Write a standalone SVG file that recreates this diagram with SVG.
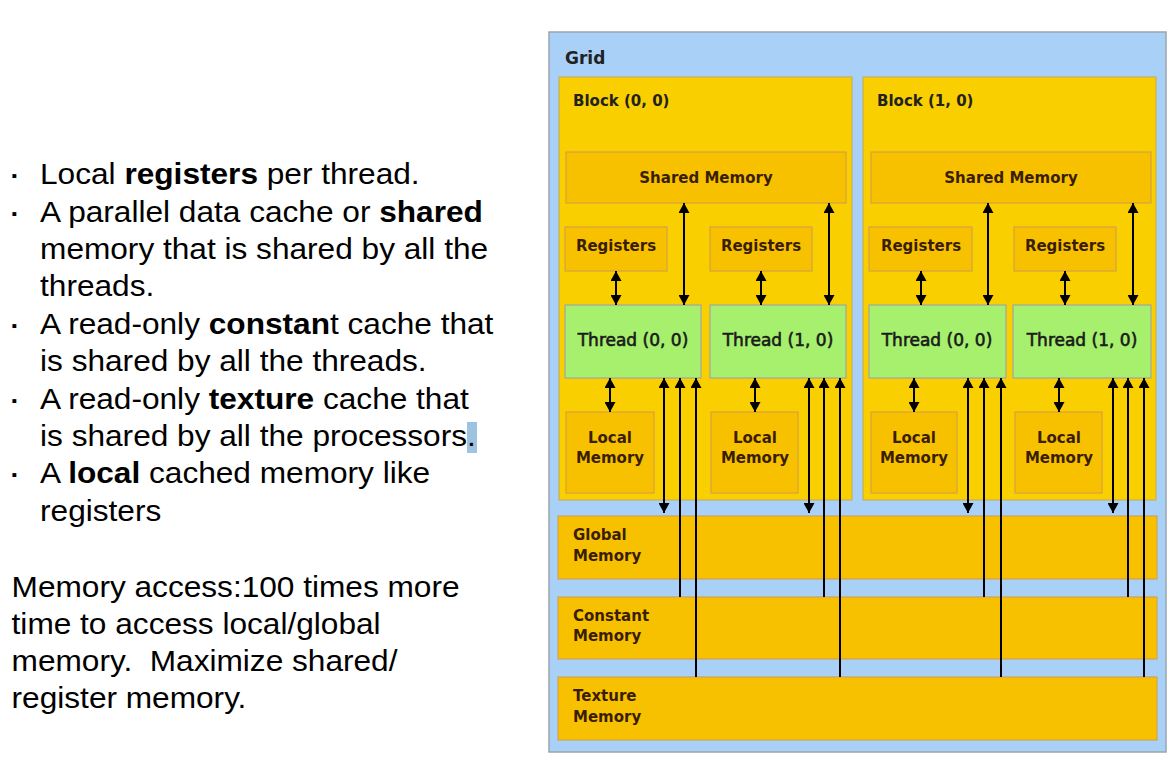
<svg xmlns="http://www.w3.org/2000/svg" width="1175" height="765" viewBox="0 0 1175 765">
<style>
.t{font-family:"Liberation Sans",Arial,sans-serif;font-size:30px;fill:#000}
.b{font-weight:bold}
.bu{font-family:"Liberation Sans",Arial,sans-serif;font-size:26px;font-weight:bold;fill:#000}
.lbl{font-family:"DejaVu Sans",Verdana,sans-serif;font-weight:bold;font-size:15px;fill:#3a1e00}
.hd{font-family:"DejaVu Sans",Verdana,sans-serif;font-weight:bold;font-size:15px;fill:#222}
.th{font-family:"DejaVu Sans",Verdana,sans-serif;font-size:17px;fill:#1a1a1a;stroke:#1a1a1a;stroke-width:0.6}
.grid{fill:#a9d1f7;stroke:#9aa4ad;stroke-width:1.5}
.blk{fill:#f9cf00;stroke:#c2a860;stroke-width:1}
.mem{fill:#f8c100;stroke:#d09a50;stroke-width:1}
.thr{fill:#a6f06e;stroke:#a4a4a4;stroke-width:1.2}
.c line{stroke:#000;stroke-width:2}
</style>
<defs>
<marker id="ah" viewBox="0 0 10 11" refX="10" refY="5.5" markerWidth="11" markerHeight="11" markerUnits="userSpaceOnUse" orient="auto-start-reverse">
<path d="M0,0 L10,5.5 L0,11 z" fill="#000"/>
</marker>
</defs>
<rect width="1175" height="765" fill="#fff"/>

<g id="text">
<rect x="467" y="422" width="10" height="31" fill="#9dc3e0"/>
<g transform="scale(1.054,1)">
<text class="bu" x="10" y="185">·</text><text class="t" x="38" y="184">Local <tspan class="b">registers</tspan> per thread.</text>
<text class="bu" x="10" y="223">·</text><text class="t" x="38" y="222">A parallel data cache or <tspan class="b">shared</tspan></text>
<text class="t" x="38" y="259">memory that is shared by all the</text>
<text class="t" x="38" y="296">threads.</text>
<text class="bu" x="10" y="335">·</text><text class="t" x="38" y="334">A read-only <tspan class="b">constan</tspan>t cache that</text>
<text class="t" x="38" y="371">is shared by all the threads.</text>
<text class="bu" x="10" y="410">·</text><text class="t" x="38" y="409">A read-only <tspan class="b">texture</tspan> cache that</text>
<text class="t" x="38" y="446">is shared by all the processors.</text>
<text class="bu" x="10" y="484">·</text><text class="t" x="38" y="483">A <tspan class="b">local</tspan> cached memory like</text>
<text class="t" x="38" y="521">registers</text>
<text class="t" x="11" y="597">Memory access:100 times more</text>
<text class="t" x="11" y="634">time to access local/global</text>
<text class="t" x="11" y="671">memory.&#160; Maximize shared/</text>
<text class="t" x="11" y="708">register memory.</text>
</g>
</g>

<g id="grid">
<rect class="grid" x="549" y="32" width="617" height="720"/>
<text class="hd" x="565" y="64" style="font-size:17px">Grid</text>
</g>

<g id="block0">
<rect class="blk" x="559" y="77" width="293" height="423"/>
<text class="hd" x="573" y="106">Block (0, 0)</text>
</g>
<g id="block1">
<rect class="blk" x="863" y="77" width="293" height="423"/>
<text class="hd" x="877" y="106">Block (1, 0)</text>
</g>

<g id="shared0"><rect class="mem" x="566" y="152" width="280" height="51"/><text class="lbl" x="706" y="183" text-anchor="middle">Shared Memory</text></g>
<g id="shared1"><rect class="mem" x="871" y="152" width="280" height="51"/><text class="lbl" x="1011" y="183" text-anchor="middle">Shared Memory</text></g>

<g id="reg00"><rect class="mem" x="565" y="227" width="102" height="44"/><text class="lbl" x="616" y="251" text-anchor="middle">Registers</text></g>
<g id="reg01"><rect class="mem" x="710" y="227" width="102" height="44"/><text class="lbl" x="761" y="251" text-anchor="middle">Registers</text></g>
<g id="reg10"><rect class="mem" x="869" y="227" width="103" height="44"/><text class="lbl" x="921" y="251" text-anchor="middle">Registers</text></g>
<g id="reg11"><rect class="mem" x="1014" y="227" width="102" height="44"/><text class="lbl" x="1065" y="251" text-anchor="middle">Registers</text></g>

<g id="thr00"><rect class="thr" x="565" y="305" width="136" height="73"/><text class="th" x="633" y="346" text-anchor="middle">Thread (0, 0)</text></g>
<g id="thr01"><rect class="thr" x="710" y="305" width="136" height="73"/><text class="th" x="778" y="346" text-anchor="middle">Thread (1, 0)</text></g>
<g id="thr10"><rect class="thr" x="869" y="305" width="137" height="73"/><text class="th" x="937" y="346" text-anchor="middle">Thread (0, 0)</text></g>
<g id="thr11"><rect class="thr" x="1013" y="305" width="138" height="73"/><text class="th" x="1082" y="346" text-anchor="middle">Thread (1, 0)</text></g>

<g id="loc00"><rect class="mem" x="566" y="412" width="88" height="81"/><text class="lbl" x="610" y="443" text-anchor="middle">Local</text><text class="lbl" x="610" y="463" text-anchor="middle">Memory</text></g>
<g id="loc01"><rect class="mem" x="711" y="412" width="87" height="81"/><text class="lbl" x="755" y="443" text-anchor="middle">Local</text><text class="lbl" x="755" y="463" text-anchor="middle">Memory</text></g>
<g id="loc10"><rect class="mem" x="871" y="412" width="86" height="81"/><text class="lbl" x="914" y="443" text-anchor="middle">Local</text><text class="lbl" x="914" y="463" text-anchor="middle">Memory</text></g>
<g id="loc11"><rect class="mem" x="1015" y="412" width="87" height="81"/><text class="lbl" x="1059" y="443" text-anchor="middle">Local</text><text class="lbl" x="1059" y="463" text-anchor="middle">Memory</text></g>

<g id="global"><rect class="mem" x="558" y="516" width="599" height="63"/><text class="lbl" x="573" y="540">Global</text><text class="lbl" x="573" y="561">Memory</text></g>
<g id="constant"><rect class="mem" x="558" y="597" width="599" height="62"/><text class="lbl" x="573" y="621">Constant</text><text class="lbl" x="573" y="641">Memory</text></g>
<g id="texture"><rect class="mem" x="558" y="677" width="599" height="63"/><text class="lbl" x="573" y="701">Texture</text><text class="lbl" x="573" y="722">Memory</text></g>

<g id="connectors" class="c">
<line x1="616" y1="271" x2="616" y2="305" marker-start="url(#ah)" marker-end="url(#ah)"/>
<line x1="684" y1="203" x2="684" y2="305" marker-start="url(#ah)" marker-end="url(#ah)"/>
<line x1="610" y1="378" x2="610" y2="412" marker-start="url(#ah)" marker-end="url(#ah)"/>
<line x1="664" y1="378" x2="664" y2="513" marker-start="url(#ah)" marker-end="url(#ah)"/>
<line x1="680" y1="597" x2="680" y2="378" marker-end="url(#ah)"/>
<line x1="696" y1="677" x2="696" y2="378" marker-end="url(#ah)"/>
<line x1="761" y1="271" x2="761" y2="305" marker-start="url(#ah)" marker-end="url(#ah)"/>
<line x1="829" y1="203" x2="829" y2="305" marker-start="url(#ah)" marker-end="url(#ah)"/>
<line x1="755" y1="378" x2="755" y2="412" marker-start="url(#ah)" marker-end="url(#ah)"/>
<line x1="809" y1="378" x2="809" y2="513" marker-start="url(#ah)" marker-end="url(#ah)"/>
<line x1="824" y1="597" x2="824" y2="378" marker-end="url(#ah)"/>
<line x1="840" y1="677" x2="840" y2="378" marker-end="url(#ah)"/>
<line x1="921" y1="271" x2="921" y2="305" marker-start="url(#ah)" marker-end="url(#ah)"/>
<line x1="988" y1="203" x2="988" y2="305" marker-start="url(#ah)" marker-end="url(#ah)"/>
<line x1="914" y1="378" x2="914" y2="412" marker-start="url(#ah)" marker-end="url(#ah)"/>
<line x1="968" y1="378" x2="968" y2="513" marker-start="url(#ah)" marker-end="url(#ah)"/>
<line x1="984" y1="597" x2="984" y2="378" marker-end="url(#ah)"/>
<line x1="1001" y1="677" x2="1001" y2="378" marker-end="url(#ah)"/>
<line x1="1065" y1="271" x2="1065" y2="305" marker-start="url(#ah)" marker-end="url(#ah)"/>
<line x1="1133" y1="203" x2="1133" y2="305" marker-start="url(#ah)" marker-end="url(#ah)"/>
<line x1="1059" y1="378" x2="1059" y2="412" marker-start="url(#ah)" marker-end="url(#ah)"/>
<line x1="1113" y1="378" x2="1113" y2="513" marker-start="url(#ah)" marker-end="url(#ah)"/>
<line x1="1128" y1="597" x2="1128" y2="378" marker-end="url(#ah)"/>
<line x1="1144" y1="677" x2="1144" y2="378" marker-end="url(#ah)"/>
</g>
</svg>
